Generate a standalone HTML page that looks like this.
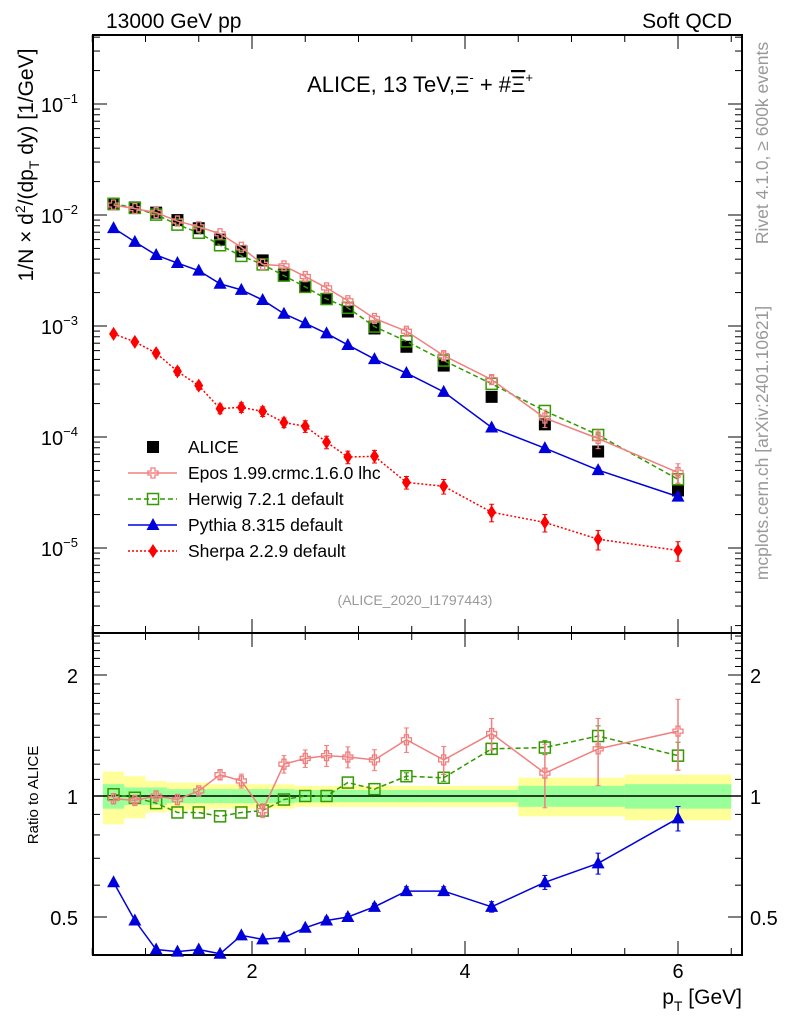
<!DOCTYPE html>
<html><head><meta charset="utf-8">
<style>
html,body{margin:0;padding:0;background:#fff;}
svg{display:block;font-family:"Liberation Sans",sans-serif;}
</style></head>
<body>
<svg id="chart" width="786" height="1024" viewBox="0 0 786 1024" xmlns="http://www.w3.org/2000/svg">
<g id="bands"></g>
<g id="grid"></g>
<g id="series"></g>
<text x="106" y="28" font-size="21">13000 GeV pp</text>
<text x="732" y="28" font-size="21" text-anchor="end">Soft QCD</text>
<text x="420" y="92" font-size="22" text-anchor="middle">ALICE, 13 TeV,Ξ<tspan font-size="13" dy="-10">-</tspan><tspan dy="10"> + #</tspan><tspan text-decoration="overline">Ξ</tspan><tspan font-size="13" dy="-10">+</tspan></text>
<text x="415" y="605" font-size="14" fill="#999" text-anchor="middle">(ALICE_2020_I1797443)</text>
<text transform="translate(33,165) rotate(-90)" font-size="21" text-anchor="middle">1/N × d<tspan font-size="14" dy="-8">2</tspan><tspan dy="8">/(dp</tspan><tspan font-size="14" dy="6">T</tspan><tspan dy="-6"> dy) [1/GeV]</tspan></text>
<text transform="translate(38,795) rotate(-90)" font-size="15" text-anchor="middle">Ratio to ALICE</text>
<text x="742" y="1004" font-size="21" text-anchor="end">p<tspan font-size="14" dy="7">T</tspan><tspan dy="-7"> [GeV]</tspan></text>
<text transform="translate(768,143) rotate(-90)" font-size="17.5" fill="#999" text-anchor="middle">Rivet 4.1.0, ≥ 600k events</text>
<text transform="translate(768,443) rotate(-90)" font-size="17.5" fill="#999" text-anchor="middle">mcplots.cern.ch [arXiv:2401.10621]</text>
<g id="legend"></g>
</svg>
<script>
const xVals=[0.7,0.9,1.1,1.3,1.5,1.7,1.9,2.1,2.3,2.5,2.7,2.9,3.15,3.45,3.8,4.25,4.75,5.25,6.0];
const binLo=[0.6,0.8,1.0,1.2,1.4,1.6,1.8,2.0,2.2,2.4,2.6,2.8,3.0,3.3,3.6,4.0,4.5,5.0,5.5];
const binHi=[0.8,1.0,1.2,1.4,1.6,1.8,2.0,2.2,2.4,2.6,2.8,3.0,3.3,3.6,4.0,4.5,5.0,5.5,6.5];
const aliceVals=[1.25e-2,1.17e-2,1.05e-2,9.0e-3,7.6e-3,6.0e-3,4.7e-3,3.9e-3,2.9e-3,2.25e-3,1.75e-3,1.35e-3,9.5e-4,6.5e-4,4.4e-4,2.3e-4,1.3e-4,7.4e-5,3.3e-5];
const aliceTotErr=[0.15,0.12,0.09,0.08,0.08,0.07,0.07,0.07,0.07,0.06,0.06,0.06,0.06,0.06,0.06,0.06,0.11,0.11,0.13];
const aliceStatErr=[0.07,0.05,0.05,0.04,0.04,0.04,0.04,0.04,0.04,0.035,0.035,0.035,0.035,0.035,0.035,0.035,0.06,0.06,0.07];
const eposRatio=[0.985,0.975,1.0,0.98,1.03,1.13,1.09,0.92,1.2,1.24,1.26,1.25,1.23,1.38,1.23,1.43,1.14,1.31,1.45];
const eposErr=[0.03,0.02,0.03,0.03,0.02,0.03,0.04,0.04,0.05,0.05,0.06,0.06,0.06,0.07,0.08,0.09,0.18,0.19,0.2];
const herwigRatio=[1.01,0.99,0.96,0.91,0.91,0.89,0.91,0.92,0.98,1.0,1.0,1.08,1.04,1.12,1.11,1.31,1.32,1.41,1.26];
const herwigErr=[0.01,0.01,0.01,0.01,0.01,0.01,0.01,0.01,0.01,0.01,0.01,0.01,0.01,0.02,0.02,0.03,0.04,0.06,0.08];
const pythiaRatio=[0.61,0.49,0.415,0.41,0.415,0.40,0.45,0.44,0.445,0.47,0.49,0.50,0.53,0.58,0.58,0.53,0.61,0.68,0.88];
const pythiaErr=[0.005,0.005,0.005,0.005,0.005,0.005,0.01,0.01,0.01,0.015,0.02,0.02,0.02,0.025,0.025,0.03,0.04,0.06,0.07];
const sherpaVals=[8.5e-4,7.2e-4,5.7e-4,3.9e-4,2.9e-4,1.8e-4,1.85e-4,1.7e-4,1.35e-4,1.25e-4,9.0e-5,6.6e-5,6.7e-5,3.9e-5,3.6e-5,2.1e-5,1.7e-5,1.2e-5,9.5e-6];
const sherpaErr=[0.06,0.06,0.07,0.08,0.08,0.1,0.1,0.1,0.1,0.12,0.13,0.13,0.13,0.13,0.15,0.18,0.18,0.2,0.2];
const mainTickLabels=["10","10","10","10","10"];
const mainTickExp=[-1,-2,-3,-4,-5];
const ratioTickVals=[0.5,1,2];
const ratioTickLabels=["0.5","1","2"];
const xTickVals=[2,4,6];
const xTickLabels=["2","4","6"];

const NS="http://www.w3.org/2000/svg";
const L=93,R=742,MT=35,MB=633,RT=633,RB=955;
const X=v=>39+106.5*v;
const YM=v=>104-111*(Math.log10(v)+1);
const YR=v=>796-121*Math.log2(v);
function mk(tag,attrs,parent){const e=document.createElementNS(NS,tag);for(const k in attrs)e.setAttribute(k,attrs[k]);parent.appendChild(e);return e;}
const gB=document.getElementById('bands'),gG=document.getElementById('grid'),gS=document.getElementById('series'),gL=document.getElementById('legend');

binLo.forEach((lo,i)=>{
  let r=mk('rect',{x:X(lo),y:YR(1+aliceTotErr[i]),width:X(binHi[i])-X(lo),height:YR(1-aliceTotErr[i])-YR(1+aliceTotErr[i]),fill:'#ffff99'},gB);
  
  
});
binLo.forEach((lo,i)=>{
  let r=mk('rect',{x:X(lo),y:YR(1+aliceStatErr[i]),width:X(binHi[i])-X(lo),height:YR(1-aliceStatErr[i])-YR(1+aliceStatErr[i]),fill:'#99ff99'},gB);
  
  
});

let f1=mk('rect',{x:L,y:MT,width:R-L,height:MB-MT,fill:'none',stroke:'#000','stroke-width':2},gG);


let f2=mk('rect',{x:L,y:RT,width:R-L,height:RB-RT,fill:'none',stroke:'#000','stroke-width':2},gG);


let ul=mk('line',{x1:L,x2:R,y1:YR(1),y2:YR(1),stroke:'#000','stroke-width':1.5},gG);



for(let v=0.5;v<=6.55;v+=0.5){
  const maj=Math.abs(v-Math.round(v/2)*2)<1e-6&&v>1;const len=maj?14:7;
  [[MT,1],[MB,-1],[RT,1],[RB,-1]].forEach(([y,d])=>mk('line',{x1:X(v),x2:X(v),y1:y,y2:y+d*len,stroke:'#000','stroke-width':1},gG));
}
xTickVals.forEach((v,i)=>{const t=mk('text',{x:X(v),y:978,'font-size':20,'text-anchor':'middle'},gG);t.textContent=xTickLabels[i];

});

for(let e=-6;e<=0;e++){for(let m=1;m<10;m++){const v=m*Math.pow(10,e);const y=YM(v);if(y<MT||y>MB)continue;const len=m==1?14:7;
 mk('line',{x1:L,x2:L+len,y1:y,y2:y,stroke:'#000'},gG);mk('line',{x1:R,x2:R-len,y1:y,y2:y,stroke:'#000'},gG);}}
mainTickExp.forEach((e,i)=>{const t=mk('text',{x:78,y:YM(Math.pow(10,e))+8,'font-size':20,'text-anchor':'end'},gG);


t.textContent=mainTickLabels[i];const s=mk('tspan',{'font-size':13,dy:-9},t);s.textContent='−'+Math.abs(e);});

for(let v=0.4;v<=2.55;v+=0.1){const y=YR(v);if(y<RT||y>RB)continue;const maj=ratioTickVals.some(t=>Math.abs(t-v)<1e-6);const len=maj?14:7;
 mk('line',{x1:L,x2:L+len,y1:y,y2:y,stroke:'#000'},gG);mk('line',{x1:R,x2:R-len,y1:y,y2:y,stroke:'#000'},gG);}
ratioTickVals.forEach((v,i)=>{
 const t=mk('text',{x:78,y:YR(v)+8,'font-size':20,'text-anchor':'end'},gG);t.textContent=ratioTickLabels[i];
 
 
 const t2=mk('text',{x:750,y:YR(v)+8,'font-size':20},gG);t2.textContent=ratioTickLabels[i];
 
 });

function marker(type,x,y,col,g){
  if(type=='sq') return mk('rect',{x:x-6,y:y-6,width:12,height:12,fill:'#000'},g);
  if(type=='osq') return mk('rect',{x:x-5.5,y:y-5.5,width:11,height:11,fill:'none',stroke:col,'stroke-width':1.5},g);
  if(type=='cross') return mk('path',{d:`M${x-2} ${y-5}h4v3h3v4h-3v3h-4v-3h-3v-4h3z`,fill:'none',stroke:col,'stroke-width':1.3},g);
  if(type=='tri') return mk('path',{d:`M${x} ${y-7}L${x+6.5} ${y+5}L${x-6.5} ${y+5}z`,fill:col},g);
  if(type=='dia') return mk('path',{d:`M${x} ${y-7}L${x+4.5} ${y}L${x} ${y+7}L${x-4.5} ${y}z`,fill:col},g);
}
function series(name,yFn,vals,errs,type,col,dash,sw){
  const g=mk('g',{},gS);
  
  
  if(col){const pts=vals.map((v,i)=>X(xVals[i])+','+yFn(v)).join(' ');
    mk('polyline',{points:pts,fill:'none',stroke:col,'stroke-width':sw||1.5,'stroke-dasharray':dash||'none'},g);}
  vals.forEach((v,i)=>{const x=X(xVals[i]);
    if(errs){const y1=yFn(v*(1+errs[i])),y2=yFn(v*(1-errs[i]));
      if(y2-y1>4){mk('line',{x1:x,x2:x,y1:y1,y2:y2,stroke:col||'#000','stroke-width':1.5},g);
      mk('line',{x1:x-2.5,x2:x+2.5,y1:y1,y2:y1,stroke:col||'#000'},g);mk('line',{x1:x-2.5,x2:x+2.5,y1:y2,y2:y2,stroke:col||'#000'},g);}}
    const m=marker(type,x,yFn(v),col,g);
    
    
  });
}
const eposMain=aliceVals.map((a,i)=>a*eposRatio[i]);
const herwigMain=aliceVals.map((a,i)=>a*herwigRatio[i]);
const pythiaMain=aliceVals.map((a,i)=>a*pythiaRatio[i]);
series('alice-data',YM,aliceVals,null,'sq',null);
series('herwig-main',YM,herwigMain,herwigErr,'osq','#339900','5,3');
series('epos-main',YM,eposMain,eposErr,'cross','#f08080');
series('pythia-main',YM,pythiaMain,pythiaErr,'tri','#0000dd');
series('sherpa-main',YM,sherpaVals,sherpaErr,'dia','#ff0000','2,2');
series('herwig-ratio',YR,herwigRatio,herwigErr,'osq','#339900','5,3');
series('epos-ratio',YR,eposRatio,eposErr,'cross','#f08080');
series('pythia-ratio',YR,pythiaRatio.map(v=>Math.max(v,0.405)),pythiaErr,'tri','#0000dd');

const legNames=['ALICE','Epos 1.99.crmc.1.6.0 lhc','Herwig 7.2.1 default','Pythia 8.315 default','Sherpa 2.2.9 default'];
const legTypes=['sq','cross','osq','tri','dia'];
const legCols=[null,'#f08080','#339900','#0000dd','#ff0000'];
const legDash=[null,'none','5,3','none','2,2'];
legNames.forEach((n,i)=>{const y=447+26*i;const g=mk('g',{},gL);
  
  
  if(legCols[i])mk('line',{x1:128,x2:177,y1:y,y2:y,stroke:legCols[i],'stroke-width':1.5,'stroke-dasharray':legDash[i]},g);
  marker(legTypes[i],153,y,legCols[i],g);
  const t=mk('text',{x:188,y:y+6,'font-size':17.5},g);t.textContent=n;});
</script>
</body></html>
